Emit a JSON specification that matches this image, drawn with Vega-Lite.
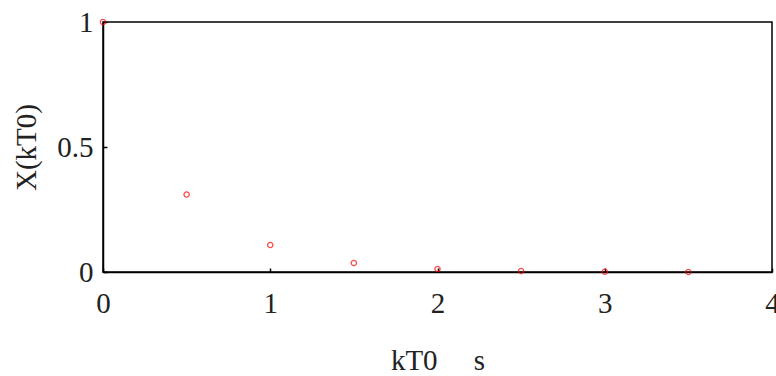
{
  "$schema": "https://vega.github.io/schema/vega-lite/v6.json",
  "autosize": {"type": "none"},
  "width": 669,
  "height": 250,
  "padding": {"left": 103, "top": 22, "right": 4, "bottom": 104},
  "background": "white",
  "config": {
    "view": {"stroke": "black", "strokeWidth": 1.5},
    "axis": {
      "labelFont": "Liberation Serif",
      "titleFont": "Liberation Serif",
      "labelFontSize": 29,
      "titleFontSize": 29,
      "labelColor": "#222",
      "titleColor": "#222",
      "titleFontWeight": "normal",
      "grid": false,
      "domainColor": "black",
      "domainWidth": 1.5,
      "tickColor": "black",
      "tickSize": -4,
      "tickWidth": 1.5
    }
  },
  "data": {
    "values": [
      {"t": 0, "x": 1.0},
      {"t": 0.5, "x": 0.31},
      {"t": 1.0, "x": 0.108},
      {"t": 1.5, "x": 0.036},
      {"t": 2.0, "x": 0.012},
      {"t": 2.5, "x": 0.004},
      {"t": 3.0, "x": 0.001},
      {"t": 3.5, "x": 0.0}
    ]
  },
  "mark": {"type": "point", "shape": "circle", "filled": false, "color": "#ff0000", "size": 28, "strokeWidth": 1.3, "clip": false},
  "encoding": {
    "x": {
      "field": "t",
      "type": "quantitative",
      "scale": {"domain": [0, 4], "nice": false, "zero": false},
      "axis": {"values": [0, 1, 2, 3, 4], "format": "~g", "title": "kT0\u00a0\u00a0\u00a0\u00a0\u00a0s", "labelPadding": 21, "titlePadding": 28, "labelFlush": false}
    },
    "y": {
      "field": "x",
      "type": "quantitative",
      "scale": {"domain": [0, 1], "nice": false},
      "axis": {"values": [0, 0.5, 1], "format": "~g", "title": "X(kT0)", "labelPadding": 14, "titlePadding": 15, "labelFlush": false}
    }
  }
}
